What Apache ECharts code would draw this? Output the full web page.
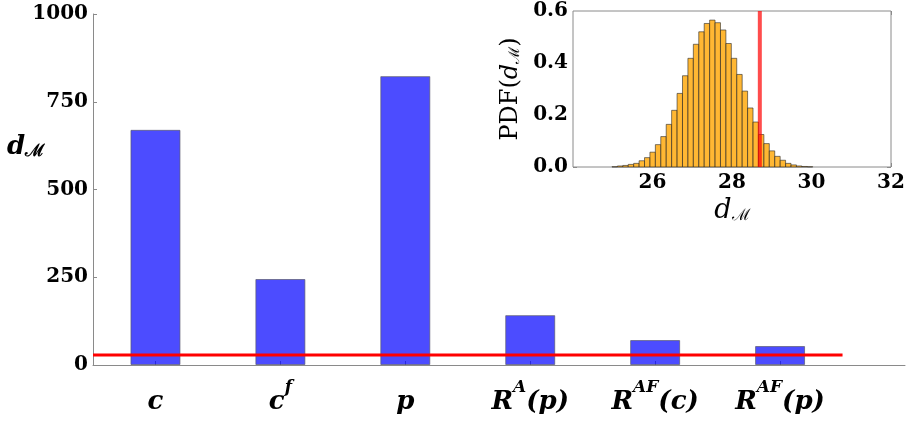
<!DOCTYPE html>
<html>
<head>
<meta charset="utf-8">
<script src="https://cdn.jsdelivr.net/npm/echarts@6/dist/echarts.min.js"></script>
<style>
  html, body { margin: 0; padding: 0; background: #fff; }
  #chart { width: 909px; height: 421px; }
</style>
</head>
<body>
<div id="chart"></div>
<script>
// Main bar chart: Mahalanobis-type distance d_M for each model variant
const categoryLabels = [
  '{i|c}',
  '{i|c}{sup|f}',
  '{i|p}',
  '{i|R}{sup|A}{i|(p)}',
  '{i|R}{sup|AF}{i|(c)}',
  '{i|R}{sup|AF}{i|(p)}'
];
const distances = [670, 245, 823, 142, 71, 54];
const mainYTicks = [0, 250, 500, 750, 1000];

// Reference threshold (red line), also marked in the inset
const threshold = 28.7;
const thresholdSpan = [-0.5, 5.5];

// Inset: histogram of the null distribution of d_M
const pdfBinStart = 24.98;
const pdfBinWidth = 0.1365;
const pdfValues = [
  0.001, 0.004, 0.006, 0.010, 0.014, 0.024, 0.036, 0.057, 0.086, 0.117,
  0.164, 0.218, 0.283, 0.351, 0.418, 0.472, 0.520, 0.552, 0.565, 0.555,
  0.527, 0.475, 0.418, 0.356, 0.292, 0.227, 0.173, 0.125, 0.090, 0.062,
  0.041, 0.026, 0.014, 0.008, 0.004, 0.002, 0.001
];
const insetXTicks = [24, 26, 28, 30, 32];
const insetYTicks = [0.0, 0.2, 0.4, 0.6];

const serif = '"DejaVu Serif", "Liberation Serif", serif';
const axisGray = '#8a8a8a';

const mathRich = {
  i: { fontFamily: serif, fontStyle: 'italic', fontWeight: 'bold', fontSize: 26, color: '#000', lineHeight: 36, verticalAlign: 'bottom' },
  sup: { fontFamily: serif, fontStyle: 'italic', fontWeight: 'bold', fontSize: 17, color: '#000', lineHeight: 17, verticalAlign: 'top' }
};

const histData = pdfValues.map((v, i) => [
  pdfBinStart + i * pdfBinWidth,
  pdfBinStart + (i + 1) * pdfBinWidth,
  v
]);

const tickLabelStyle = { fontFamily: serif, fontWeight: 'bold', fontSize: 20, color: '#000' };

const chart = echarts.init(document.getElementById('chart'), null, { renderer: 'canvas' });

chart.setOption({
  animation: false,
  backgroundColor: '#fff',
  grid: [
    { left: 93, top: 14, right: 4, bottom: 56 },
    { left: 573, top: 11, right: 18, bottom: 254, show: true, borderColor: axisGray, borderWidth: 1, backgroundColor: '#fff', z: 10 }
  ],
  xAxis: [
    {
      type: 'value', gridIndex: 0, min: -0.5, max: 6,
      splitLine: { show: false },
      axisLine: { show: true, onZero: false, lineStyle: { color: axisGray, width: 1 } },
      axisTick: { show: true, inside: true, length: 4, customValues: [0, 1, 2, 3, 4, 5], lineStyle: { color: axisGray } },
      axisLabel: {
        customValues: [0, 1, 2, 3, 4, 5],
        margin: 14,
        formatter: v => categoryLabels[Math.round(v)],
        rich: mathRich
      }
    },
    {
      type: 'value', gridIndex: 1, min: insetXTicks[0], max: insetXTicks[insetXTicks.length - 1], interval: 2,
      splitLine: { show: false },
      axisLine: { show: false, onZero: false },
      axisTick: { show: true, inside: true, length: 4, lineStyle: { color: axisGray } },
      axisLabel: Object.assign({ margin: 6, showMinLabel: false }, tickLabelStyle),
      name: '{i|d}{s|ℳ}',
      nameLocation: 'middle',
      nameGap: 30,
      nameTextStyle: {
        rich: {
          i: { fontFamily: serif, fontStyle: 'italic', fontSize: 27, color: '#000' },
          s: { fontFamily: serif, fontSize: 16, color: '#000', verticalAlign: 'bottom', padding: [10, 0, 0, 0] }
        }
      }
    },
    {
      type: 'value', gridIndex: 1, position: 'top', min: insetXTicks[0], max: insetXTicks[insetXTicks.length - 1], interval: 2,
      splitLine: { show: false },
      axisLine: { show: false, onZero: false },
      axisTick: { show: true, inside: true, length: 4, lineStyle: { color: axisGray } },
      axisLabel: { show: false }
    }
  ],
  yAxis: [
    {
      type: 'value', gridIndex: 0, min: mainYTicks[0], max: mainYTicks[mainYTicks.length - 1], interval: 250,
      splitLine: { show: false },
      axisLine: { show: true, onZero: false, lineStyle: { color: axisGray, width: 1 } },
      axisTick: { show: true, inside: true, length: 4, lineStyle: { color: axisGray } },
      axisLabel: Object.assign({ margin: 5, formatter: v => String(v) }, tickLabelStyle)
    },
    {
      type: 'value', gridIndex: 1, min: insetYTicks[0], max: insetYTicks[insetYTicks.length - 1], interval: 0.2,
      splitLine: { show: false },
      axisLine: { show: false, onZero: false },
      axisTick: { show: true, inside: true, length: 4, lineStyle: { color: axisGray } },
      axisLabel: Object.assign({ margin: 5, formatter: v => v.toFixed(1) }, tickLabelStyle),
      name: '{r|PDF(}{i|d}{s|ℳ}{r|)}',
      nameLocation: 'middle',
      nameRotate: 90,
      nameGap: 50,
      nameTextStyle: {
        rich: {
          r: { fontFamily: serif, fontSize: 24, color: '#000' },
          i: { fontFamily: serif, fontStyle: 'italic', fontSize: 24, color: '#000' },
          s: { fontFamily: serif, fontSize: 15, color: '#000', verticalAlign: 'bottom', padding: [8, 0, 0, 0] }
        }
      }
    },
    {
      type: 'value', gridIndex: 1, position: 'right', min: insetYTicks[0], max: insetYTicks[insetYTicks.length - 1], interval: 0.2,
      splitLine: { show: false },
      axisLine: { show: false, onZero: false },
      axisTick: { show: true, inside: true, length: 4, lineStyle: { color: axisGray } },
      axisLabel: { show: false }
    }
  ],
  graphic: [
    {
      type: 'text',
      left: 7,
      top: 134,
      style: {
        text: '{i|d}{s|ℳ}',
        rich: {
          i: { fontFamily: serif, fontStyle: 'italic', fontWeight: 'bold', fontSize: 26, fill: '#000' },
          s: { fontFamily: serif, fontWeight: 'bold', fontSize: 17, fill: '#000', verticalAlign: 'bottom', padding: [10, 0, 0, 0] }
        }
      }
    }
  ],
  series: [
    {
      type: 'bar',
      xAxisIndex: 0, yAxisIndex: 0,
      barWidth: 50,
      data: distances.map((v, i) => [i, v]),
      itemStyle: { color: 'rgba(0,0,255,0.7)', borderColor: 'rgba(90,90,110,0.7)', borderWidth: 1 },
      z: 2
    },
    {
      type: 'line',
      xAxisIndex: 0, yAxisIndex: 0,
      data: thresholdSpan.map(x => [x, threshold]),
      symbol: 'none',
      lineStyle: { color: '#ff0000', width: 3 },
      z: 3
    },
    {
      type: 'custom',
      xAxisIndex: 1, yAxisIndex: 1,
      data: histData,
      encode: { x: [0, 1], y: 2 },
      renderItem: (params, api) => {
        const p0 = api.coord([api.value(0), api.value(2)]);
        const p1 = api.coord([api.value(1), 0]);
        return {
          type: 'rect',
          shape: { x: p0[0], y: p0[1], width: p1[0] - p0[0], height: p1[1] - p0[1] },
          style: { fill: 'rgba(255,165,0,0.8)', stroke: 'rgba(40,40,40,0.6)', lineWidth: 1 }
        };
      },
      z: 11
    },
    {
      type: 'line',
      xAxisIndex: 1, yAxisIndex: 1,
      data: [[threshold, insetYTicks[0]], [threshold, insetYTicks[insetYTicks.length - 1]]],
      symbol: 'none',
      lineStyle: { color: 'rgba(255,0,0,0.7)', width: 4 },
      z: 12
    }
  ]
});
</script>
</body>
</html>
